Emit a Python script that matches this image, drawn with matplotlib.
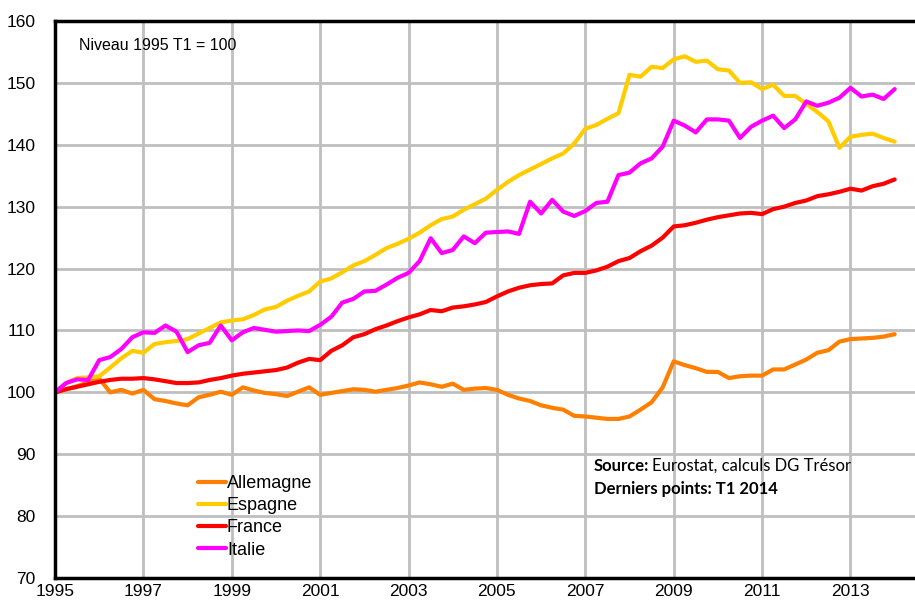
import numpy as np
import matplotlib

matplotlib.use("Agg")
import matplotlib.pyplot as plt

# --- Data: quarterly index, 1995 T1 = 100, last point 2014 T1 ---
start_year = 1995
allemagne = [100.0, 100.5, 101.0, 101.6, 102.2, 100.0, 100.4, 99.8, 100.4, 98.9,
             98.6, 98.2, 97.9, 99.2, 99.6, 100.1, 99.6, 100.8, 100.3, 99.9,
             99.7, 99.4, 100.1, 100.8, 99.6, 99.9, 100.2, 100.5, 100.4, 100.1,
             100.4, 100.7, 101.1, 101.6, 101.3, 100.9, 101.4, 100.4, 100.6, 100.7,
             100.4, 99.6, 99.0, 98.6, 97.9, 97.5, 97.2, 96.2, 96.1, 95.9,
             95.7, 95.7, 96.1, 97.2, 98.4, 100.8, 105.0, 104.4, 103.9, 103.3,
             103.3, 102.3, 102.6, 102.7, 102.7, 103.7, 103.7, 104.5, 105.3, 106.4,
             106.8, 108.2, 108.6, 108.7, 108.8, 109.0, 109.4]
espagne = [100.0, 101.5, 102.3, 102.4, 102.6, 104.0, 105.5, 106.7, 106.4, 107.8,
           108.1, 108.3, 108.6, 109.5, 110.4, 111.3, 111.6, 111.8, 112.5, 113.4,
           113.8, 114.8, 115.6, 116.3, 117.9, 118.4, 119.4, 120.5, 121.2, 122.2,
           123.3, 124.0, 124.8, 125.8, 127.0, 128.0, 128.4, 129.5, 130.4, 131.3,
           132.7, 134.0, 135.1, 136.0, 136.9, 137.8, 138.6, 140.2, 142.6, 143.2,
           144.2, 145.1, 151.3, 151.0, 152.6, 152.4, 153.8, 154.3, 153.4, 153.6,
           152.2, 152.0, 150.0, 150.1, 149.0, 149.7, 147.9, 147.9, 146.6, 145.3,
           143.8, 139.5, 141.3, 141.6, 141.8, 141.1, 140.5]
france = [100.0, 100.5, 100.9, 101.3, 101.7, 102.0, 102.2, 102.2, 102.3, 102.1,
          101.8, 101.5, 101.5, 101.6, 102.0, 102.3, 102.7, 103.0, 103.2, 103.4,
          103.6, 104.0, 104.8, 105.4, 105.2, 106.7, 107.6, 108.9, 109.4, 110.2,
          110.8, 111.5, 112.1, 112.6, 113.3, 113.1, 113.7, 113.9, 114.2, 114.6,
          115.5, 116.3, 116.9, 117.3, 117.5, 117.6, 118.9, 119.3, 119.3, 119.7,
          120.3, 121.2, 121.7, 122.8, 123.7, 125.0, 126.8, 127.0, 127.4, 127.9,
          128.3, 128.6, 128.9, 129.0, 128.8, 129.6, 130.0, 130.6, 131.0, 131.7,
          132.0, 132.4, 132.9, 132.6, 133.3, 133.7, 134.4]
italie = [100.0, 101.5, 102.1, 102.0, 105.2, 105.7, 107.0, 108.9, 109.7, 109.6,
          110.8, 109.8, 106.5, 107.6, 108.0, 110.8, 108.4, 109.7, 110.4, 110.1,
          109.8, 109.9, 110.0, 109.9, 110.9, 112.2, 114.5, 115.1, 116.3, 116.4,
          117.4, 118.5, 119.3, 121.2, 124.9, 122.5, 123.0, 125.2, 124.1, 125.8,
          125.9, 126.0, 125.6, 130.8, 128.9, 131.1, 129.2, 128.5, 129.3, 130.6,
          130.8, 135.1, 135.5, 137.0, 137.8, 139.7, 143.9, 143.1, 142.0, 144.1,
          144.1, 143.9, 141.1, 142.9, 143.9, 144.7, 142.7, 144.1, 147.0, 146.3,
          146.8, 147.6, 149.2, 147.8, 148.1, 147.4, 149.0]

series = [("Allemagne", allemagne, "#FF8000"),
          ("Espagne", espagne, "#FFCC00"),
          ("France", france, "#FF0000"),
          ("Italie", italie, "#FF00FF")]
year_ticks = list(range(1995, 2015, 2))
y_ticks = list(range(70, 161, 10))

t = start_year + np.arange(len(france)) / 4.0

plt.rcParams["font.family"] = ["Liberation Sans", "DejaVu Sans"]

fig = plt.figure(figsize=(9.15, 6.01), dpi=100)
ax = fig.add_axes([55 / 915, 1 - 578 / 601, 1 - 55 / 915, (578 - 21) / 601])

for name, vals, color in series:
    ax.plot(t, vals, color=color, lw=3, label=name, solid_capstyle="round")

ax.set_xlim(1995, 2014.46)
ax.set_ylim(70, 160)
ax.set_xticks(year_ticks)
ax.set_yticks(y_ticks)
ax.grid(True, color="#BFBFBF", lw=2)
ax.set_axisbelow(True)
ax.tick_params(length=0, labelsize=12.5, pad=14)
ax.tick_params(axis="x", pad=4)
for side in ("left", "top", "bottom"):
    ax.spines[side].set_linewidth(2.5)
    ax.spines[side].set_color("black")
ax.spines["right"].set_visible(False)

ax.text(79 / 915, 1 - 45 / 601, "Niveau 1995 T1 = 100", transform=fig.transFigure,
        fontsize=11.5, va="center", ha="left")

leg = ax.legend(loc="upper left", bbox_to_anchor=((198 - 55) / 860, (578 - 475) / 557),
                frameon=False, fontsize=13, handlelength=1.55, handletextpad=0.05,
                labelspacing=0.29, borderaxespad=0, borderpad=0)

# Source block, bold label then normal text
fs = 12
cal = ["Lato", "DejaVu Sans"]
src = fig.text(594 / 915, 1 - 466 / 601, "Source:", fontsize=fs, fontweight="bold",
               family=cal, va="center", ha="left")
fig.canvas.draw()
bb = src.get_window_extent()
fig.text((bb.x1 + 3) / 915, 1 - 466 / 601, "Eurostat, calculs DG Trésor", fontsize=fs,
         family=cal, va="center", ha="left")
fig.text(594 / 915, 1 - 489 / 601, "Derniers points: T1 2014", fontsize=fs,
         fontweight="bold", family=cal, va="center", ha="left")

fig.savefig("out.png", dpi=100)
